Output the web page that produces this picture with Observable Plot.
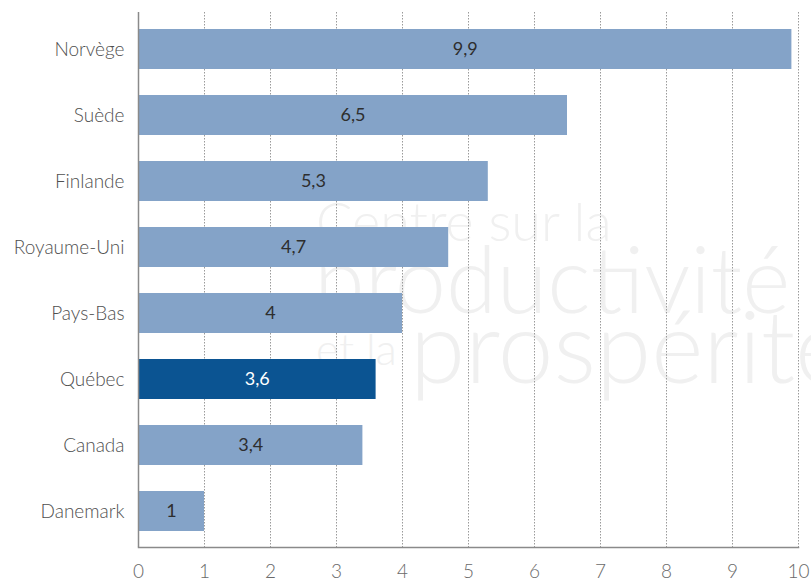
<!DOCTYPE html>
<html><head><meta charset="utf-8">
<script src="https://cdn.jsdelivr.net/npm/d3@7"></script>
<script src="https://cdn.jsdelivr.net/npm/@observablehq/plot@0.6"></script>
<style>
body{margin:0;background:#fff;}
#wrap{position:relative;width:811px;height:583px;overflow:hidden;}
#wm{position:absolute;left:0;top:0;width:811px;height:583px;font-family:Lato,sans-serif;color:#f0f0f0;font-weight:300;pointer-events:none;}
#wm div{position:absolute;white-space:nowrap;line-height:1;}
#chart{position:absolute;left:0;top:0;}
</style></head>
<body><div id="wrap"><div id="wm">
<div style="left:316px;top:194px;font-size:54px;">Centre sur la</div>
<div style="left:314px;top:232px;font-size:92px;">productivité</div>
<div style="left:316px;top:326px;font-size:44px;">et la</div>
<div style="left:410px;top:294px;font-size:100px;">prospérité</div>
</div><div id="chart"></div></div>
<script>
const countries = ["Norvège","Suède","Finlande","Royaume-Uni","Pays-Bas","Québec","Canada","Danemark"];
const values = [9.9, 6.5, 5.3, 4.7, 4, 3.6, 3.4, 1];
const highlight = "Québec";
const xTicks = [0,1,2,3,4,5,6,7,8,9,10];
const gridTicks = [1,2,3,4,5,6,7,8,9,10];

const data = countries.map((c,i)=>({country:c, value:values[i], hl:c===highlight}));
const fmt = v => String(v).replace(".", ",");

const plot = Plot.plot({
  width: 811, height: 583,
  marginLeft: 138, marginRight: 13, marginTop: 12, marginBottom: 36,
  style: {background: "transparent", fontFamily: "Lato, sans-serif", fontWeight: 300},
  x: {domain: [0,10], ticks: xTicks, label: null},
  y: {domain: countries, paddingInner: 0.4, paddingOuter: 0.2, label: null},
  marks: [
    Plot.ruleX(gridTicks, {stroke: "#9a9a9a", strokeDasharray: "1.5,1.5", strokeWidth: 1}),
    Plot.barX(data, {x: "value", y: "country", fill: d => d.hl ? "#0b5492" : "#84a3c8"}),
    Plot.text(data, {x: d => d.value/2, y: "country", text: d => fmt(d.value),
      fill: d => d.hl ? "#ffffff" : "#2e2e2e", fontSize: 18, fontWeight: 400}),
    Plot.ruleX([0], {stroke: "#8a8a8a", strokeWidth: 1.5}),
    Plot.axisX({ticks: xTicks, tickSize: 0, tickPadding: 17, fontSize: 19, fill: "#6a6a6a", fontWeight: 300}),
    Plot.axisY({tickSize: 0, tickPadding: 14, fontSize: 19, fill: "#505050", fontWeight: 300}),
    Plot.frame({anchor: "bottom", stroke: "#8a8a8a", strokeWidth: 1.5})
  ]
});
document.getElementById("chart").appendChild(plot);
</script></body></html>
